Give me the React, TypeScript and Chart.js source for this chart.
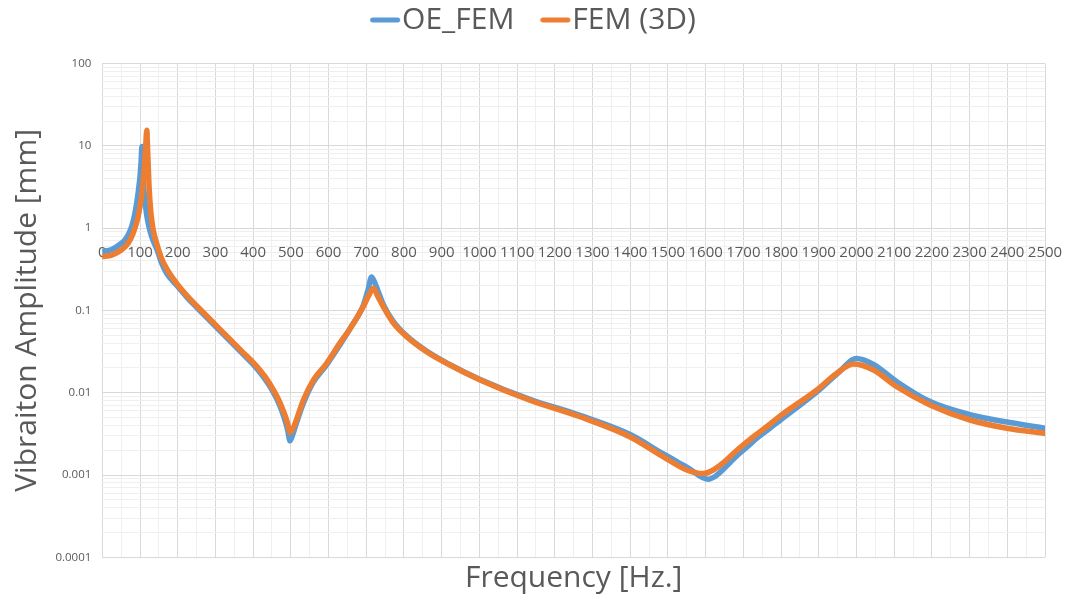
import React, { useEffect, useRef } from 'react';
import { Chart, registerables } from 'chart.js';

Chart.register(...registerables);

// OE_FEM frequency response
const oeFemFrequency = [0, 25, 50, 60, 70, 78, 85, 91, 96, 100, 103, 105, 107, 110, 115, 120, 127, 135, 145, 157, 171, 200, 225, 250, 275, 300, 325, 350, 375, 400, 420, 440, 455, 470, 482, 491, 498, 505, 515, 533, 560, 595, 630, 657, 692, 705, 714, 722, 735, 745, 772, 807, 860, 913, 1002, 1134, 1267, 1400, 1488, 1550, 1607, 1625, 1645, 1665, 1685, 1710, 1740, 1770, 1797, 1895, 1948, 2000, 2045, 2107, 2195, 2301, 2399, 2500];
const oeFemAmplitude = [0.52, 0.55, 0.65, 0.72, 0.85, 1.05, 1.4, 2.0, 2.9, 4.25, 6.5, 9.8, 5.0, 3.0, 1.8, 1.25, 0.9, 0.7, 0.55, 0.38, 0.28, 0.195, 0.143, 0.109, 0.0835, 0.064, 0.049, 0.0377, 0.0289, 0.0221, 0.0172, 0.0128, 0.0098, 0.0071, 0.005, 0.0036, 0.0026, 0.0031, 0.0043, 0.0074, 0.0135, 0.0218, 0.038, 0.06, 0.115, 0.18, 0.255, 0.22, 0.155, 0.118, 0.073, 0.049, 0.032, 0.023, 0.0145, 0.0083, 0.0053, 0.0031, 0.0018, 0.00125, 0.00089, 0.00096, 0.00115, 0.00142, 0.00175, 0.0022, 0.0029, 0.0037, 0.0046, 0.0102, 0.0168, 0.026, 0.022, 0.0136, 0.0078, 0.0054, 0.0044, 0.0037];

// FEM (3D) frequency response
const fem3dFrequency = [0, 25, 51, 69, 82, 95, 104, 111, 115, 118, 120.5, 124, 129, 135, 144, 157, 171, 200, 225, 250, 275, 300, 325, 350, 375, 400, 420, 440, 455, 470, 482, 491, 498, 506, 515, 533, 560, 595, 630, 657, 692, 706, 719, 730, 745, 772, 807, 860, 913, 1002, 1134, 1267, 1400, 1488, 1550, 1594, 1615, 1635, 1655, 1675, 1700, 1730, 1760, 1797, 1895, 1948, 1992, 2045, 2107, 2195, 2301, 2399, 2500];
const fem3dAmplitude = [0.45, 0.47, 0.545, 0.66, 0.87, 1.38, 2.42, 5.1, 9.8, 15.5, 8.2, 3.2, 1.52, 0.95, 0.66, 0.43, 0.32, 0.205, 0.15, 0.114, 0.0875, 0.0671, 0.0515, 0.0395, 0.0303, 0.0233, 0.0183, 0.0138, 0.0106, 0.0078, 0.0057, 0.0043, 0.0033, 0.0037, 0.0047, 0.0081, 0.0143, 0.0228, 0.04, 0.06, 0.111, 0.15, 0.186, 0.15, 0.111, 0.07, 0.048, 0.0315, 0.0228, 0.0143, 0.0081, 0.0051, 0.0029, 0.00166, 0.00115, 0.00104, 0.00112, 0.00128, 0.00152, 0.00185, 0.00232, 0.003, 0.0038, 0.0052, 0.0108, 0.0172, 0.0223, 0.0189, 0.0118, 0.0071, 0.00466, 0.0037, 0.0032];

// Axis ticks: x every 50 Hz (labelled every 100), y with 1..9 minors per decade
const xMin = 0;
const xMax = 2500;
const xTickValues = Array.from({ length: xMax / 50 + 1 }, (_, i) => i * 50);
const yDecadeExponents = [-4, -3, -2, -1, 0, 1];
const yTickValues: number[] = [];
yDecadeExponents.forEach((e) => {
  for (let m = 1; m <= 9; m++) yTickValues.push(Number((m * Math.pow(10, e)).toPrecision(3)));
});
yTickValues.push(100);

const FONT = "'Open Sans', 'Noto Sans', sans-serif";
const TEXT = '#595959';
const MAJOR_GRID = '#d9d9d9';
const MINOR_GRID = '#efefef';
const BLUE = '#5b9bd5';
const ORANGE = '#ed7d31';
const LINE_WIDTH = 5.5;

const isDecade = (v: number) => {
  const l = Math.log10(v);
  return Math.abs(l - Math.round(l)) < 1e-9;
};

function legendMarker(color: string): HTMLCanvasElement {
  const c = document.createElement('canvas');
  c.width = 68;
  c.height = 8;
  const g = c.getContext('2d')!;
  g.strokeStyle = color;
  g.lineWidth = 5;
  g.lineCap = 'round';
  g.beginPath();
  g.moveTo(38.5, 4);
  g.lineTo(63.5, 4);
  g.stroke();
  return c;
}

// Gives the legend block a fixed height so the plot starts lower
const legendBlock = {
  id: 'legendBlock',
  beforeUpdate(chart: any) {
    const legend = chart.legend;
    if (legend && !legend.fixedFit) {
      const fit = legend.fit.bind(legend);
      legend.fit = () => {
        fit();
        legend.height = 63.5;
      };
      legend.fixedFit = true;
    }
  },
};

export default function App() {
  const canvasRef = useRef<HTMLCanvasElement | null>(null);

  useEffect(() => {
    const canvas = canvasRef.current;
    if (!canvas) return;
    const markers = [legendMarker(BLUE), legendMarker(ORANGE)];

    const lineStyle = {
      borderWidth: LINE_WIDTH,
      pointRadius: 0,
      cubicInterpolationMode: 'monotone',
      borderCapStyle: 'round',
      borderJoinStyle: 'round',
      xAxisID: 'x',
      yAxisID: 'y',
    };

    const chart = new Chart(canvas, {
      type: 'line',
      data: {
        datasets: [
          {
            label: 'OE_FEM',
            data: oeFemFrequency.map((f, i) => ({ x: f, y: oeFemAmplitude[i] })),
            borderColor: BLUE,
            backgroundColor: BLUE,
            order: 1,
            ...lineStyle,
          },
          {
            label: 'FEM (3D)',
            data: fem3dFrequency.map((f, i) => ({ x: f, y: fem3dAmplitude[i] })),
            borderColor: ORANGE,
            backgroundColor: ORANGE,
            order: 0,
            ...lineStyle,
          },
        ],
      },
      options: {
        responsive: false,
        animation: false,
        events: [],
        layout: { padding: { left: 0, right: 20, top: 0, bottom: 0 } },
        plugins: {
          tooltip: { enabled: false },
          legend: {
            position: 'top',
            labels: {
              usePointStyle: true,
              pointStyleWidth: 38,
              padding: 5,
              color: TEXT,
              font: { family: FONT, size: 30 },
              generateLabels: (c: any) =>
                c.data.datasets.map((ds: any, i: number) => ({
                  text: ds.label,
                  fillStyle: ds.borderColor,
                  strokeStyle: ds.borderColor,
                  lineWidth: 0,
                  pointStyle: markers[i],
                  hidden: false,
                  datasetIndex: i,
                  fontColor: TEXT,
                })),
            },
          },
        },
        scales: {
          x: {
            type: 'linear',
            min: xMin,
            max: xMax,
            position: { y: 1 } as any,
            afterBuildTicks: (scale: any) => {
              scale.ticks = xTickValues.map((v) => ({ value: v }));
            },
            afterFit: (scale: any) => {
              scale.paddingLeft = 0;
              scale.paddingRight = 0;
            },
            ticks: {
              autoSkip: false,
              maxRotation: 0,
              minRotation: 0,
              padding: 16,
              color: TEXT,
              font: { family: FONT, size: 15 },
              callback: (v: any) => (Number(v) % 100 === 0 ? String(v) : ''),
            },
            grid: {
              drawTicks: false,
              color: (ctx: any) => (ctx.tick && ctx.tick.value % 100 === 0 ? MAJOR_GRID : MINOR_GRID),
            },
            border: { display: true, color: MAJOR_GRID },
          },
          x2: {
            type: 'linear',
            position: 'bottom',
            min: xMin,
            max: xMax,
            grid: { display: false, drawTicks: false },
            border: { display: false },
            ticks: { display: false },
            title: {
              display: true,
              text: 'Frequency [Hz.]',
              color: TEXT,
              font: { family: FONT, size: 30 },
              padding: { top: 2.7, bottom: 7 },
            },
          },
          y: {
            type: 'logarithmic',
            min: 0.0001,
            max: 100,
            position: 'left',
            afterBuildTicks: (scale: any) => {
              scale.ticks = yTickValues.map((v) => ({ value: v }));
            },
            afterFit: (scale: any) => {
              scale.width = 102.3;
            },
            ticks: {
              autoSkip: false,
              padding: 11,
              color: TEXT,
              font: { family: FONT, size: 11.5 },
              callback: (v: any) => (isDecade(Number(v)) ? String(Number(v)) : ''),
            },
            grid: {
              drawTicks: false,
              color: (ctx: any) => (ctx.tick && isDecade(ctx.tick.value) ? MAJOR_GRID : MINOR_GRID),
            },
            border: { display: false },
            title: {
              display: true,
              text: 'Vibraiton Amplitude [mm]',
              color: TEXT,
              font: { family: FONT, size: 30 },
              padding: { top: 9, bottom: 4 },
            },
          },
        },
      },
      plugins: [legendBlock],
    } as any);

    return () => chart.destroy();
  }, []);

  return (
    <div style={{ position: 'absolute', left: 0, top: 0, width: 1065, height: 603, background: '#ffffff' }}>
      <canvas ref={canvasRef} width={1065} height={603} style={{ display: 'block' }} />
    </div>
  );
}
